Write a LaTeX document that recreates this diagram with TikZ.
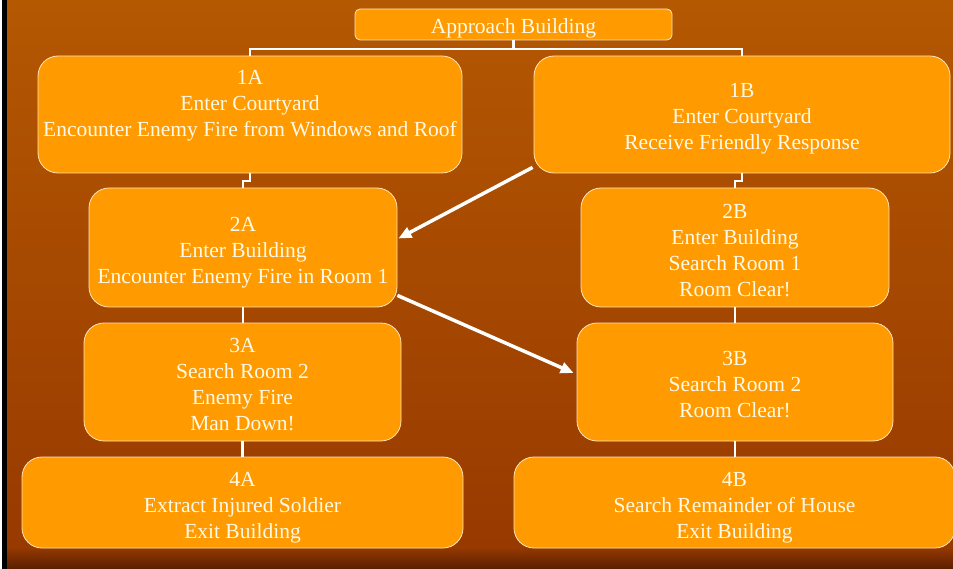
\documentclass[tikz,border=0pt]{standalone}
\usepackage{fontspec}
\setmainfont{Liberation Serif}
\usepackage{tikz}
\usetikzlibrary{arrows.meta}
\usetikzlibrary{positioning}
\usetikzlibrary{calc}

\definecolor{slidetop}{RGB}{180,88,2}
\definecolor{slidemid}{RGB}{152,58,0}
\definecolor{slidedark}{RGB}{88,30,0}
\definecolor{boxorange}{RGB}{255,154,0}
\definecolor{edgecream}{RGB}{255,228,185}
\definecolor{textcream}{RGB}{255,250,232}

% pushes the text block down a little inside its box
\newcommand{\raiseline}[1][22pt]{\rule{0pt}{#1}}

\begin{document}
\begin{tikzpicture}[
    x=1pt, y=-1pt,
    every node/.style={font=\fontsize{21.5}{26}\selectfont, text=textcream},
    phase/.style={rectangle, rounded corners=20pt, draw=edgecream, line width=0.8pt, fill=boxorange, align=center, inner sep=0pt},
    link/.style={draw=white, line width=2.5pt},
    jump/.style={draw=white, line width=3.5pt, -{Triangle[length=13pt,width=11pt]}}]

% Background
\useasboundingbox (0,0) rectangle (953,569);
\shade[top color=slidetop, bottom color=slidemid] (0,0) rectangle (953,548);
\shade[top color=slidemid, bottom color=slidedark] (0,547) rectangle (953,569);
\fill[white] (0,0) rectangle (2,569);
\fill[black] (2,0) rectangle (7,569);

% Nodes
\node[phase, rounded corners=5pt, minimum width=317pt, minimum height=31pt] (top) at (513.5,24.5) {\raiseline[23pt]Approach Building};
\node[phase, minimum width=424pt, minimum height=117pt] (a1) at (250,114.5) {\raiseline[18pt]1A\\Enter Courtyard\\Encounter Enemy Fire from Windows and Roof\\\mbox{}};
\node[phase, minimum width=416pt, minimum height=117pt] (b1) at (742,114.5) {\raiseline1B\\Enter Courtyard\\Receive Friendly Response};
\node[phase, minimum width=308pt, minimum height=119pt] (a2) at (243,247.5) {\raiseline[24pt]2A\\Enter Building\\Encounter Enemy Fire in Room 1};
\node[phase, minimum width=308pt, minimum height=119pt] (b2) at (735,247.5) {\raiseline[20pt]2B\\Enter Building\\Search Room 1\\Room Clear!};
\node[phase, minimum width=317pt, minimum height=118pt] (a3) at (242.5,382) {\raiseline[20pt]3A\\Search Room 2\\Enemy Fire\\Man Down!};
\node[phase, minimum width=316pt, minimum height=118pt] (b3) at (735,382) {\raiseline[20pt]3B\\Search Room 2\\Room Clear!};
\node[phase, minimum width=441pt, minimum height=91pt] (a4) at (242.5,502.5) {\raiseline[24pt]4A\\Extract Injured Soldier\\Exit Building};
\node[phase, minimum width=441pt, minimum height=91pt] (b4) at (734.5,502.5) {\raiseline[24pt]4B\\Search Remainder of House\\Exit Building};

% Tree lines
\draw[link] (top.south) -- ++(0,8.5) coordinate (fork);
\draw[link] (fork) -| (a1.north);
\draw[link] (fork) -| (b1.north);
\draw[link] (a1.south) -- ++(0,7.5) -| (a2.north);
\draw[link] (b1.south) -- ++(0,7.5) -| (b2.north);
\draw[link] (a2.south) -- (a2.south |- a3.north);
\draw[link] (a3.south) -- (a4.north);
\draw[link] (b2.south) -- (b3.north);
\draw[link] (b3.south) -- (b3.south |- b4.north);

% Arrows
\draw[jump] ($(b1.south west)+(-1,-6)$) -- ($(a2.east)+(1,-9)$);
\draw[jump] ($(a2.south east)+(0,-12)$) -- ($(b3.west)+(-3,-9)$);
\end{tikzpicture}
\end{document}
